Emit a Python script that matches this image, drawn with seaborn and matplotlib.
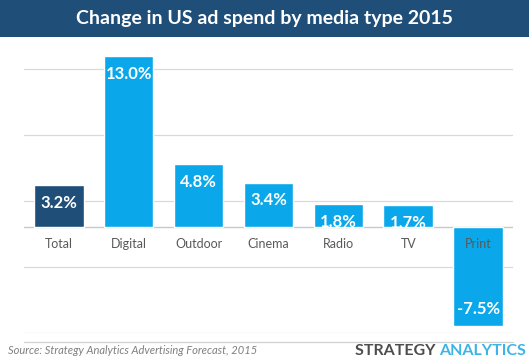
import matplotlib
matplotlib.use("Agg")
import matplotlib.pyplot as plt
import seaborn as sns
import pandas as pd
from matplotlib.patches import Rectangle

categories = ["Total", "Digital", "Outdoor", "Cinema", "Radio", "TV", "Print"]
values = [3.2, 13.0, 4.8, 3.4, 1.8, 1.7, -7.5]
value_labels = ["3.2%", "13.0%", "4.8%", "3.4%", "1.8%", "1.7%", "-7.5%"]
grid_ticks = [-8, -3, 2, 7, 12]

NAVY = "#1f4e79"
BLUE = "#0aa8ea"

sns.set_theme(style="white")
plt.rcParams["font.family"] = ["Lato", "DejaVu Sans"]

df = pd.DataFrame({"media": categories, "change": values})
colors = [NAVY] + [BLUE] * (len(categories) - 1)

fig = plt.figure(figsize=(5.29, 3.62), dpi=100)
fig.patch.set_facecolor("white")

# title banner
fig.patches.append(Rectangle((0, 0.898), 1, 0.102, transform=fig.transFigure,
                             facecolor=NAVY, edgecolor="none", zorder=0))
fig.text(0.5, 0.949, "Change in US ad spend by media type 2015", color="white",
         fontsize=14, fontweight="bold", ha="center", va="center")

ax = fig.add_axes([0.045, 0.080, 0.925, 0.802])
sns.barplot(data=df, x="media", y="change", hue="media", palette=colors,
            dodge=False, legend=False, width=0.71, saturation=1, ax=ax, zorder=3)

ax.set_ylim(-8, 14)
ax.set_xlim(-0.5, len(categories) - 0.5)
ax.set_yticks(grid_ticks)
ax.set_yticklabels([])
ax.set_xticks([])
ax.set_xlabel("")
ax.set_ylabel("")
ax.grid(axis="y", color="#d9d9d9", linewidth=0.9, zorder=0)
ax.axhline(0, color="#c8c8c8", linewidth=1.0, zorder=2)
for s in ax.spines.values():
    s.set_visible(False)
ax.tick_params(left=False, bottom=False)

for i, (cat, v, lab) in enumerate(zip(categories, values, value_labels)):
    ax.text(i, -1.25, cat, ha="center", va="center", fontsize=9,
            color="#595959", zorder=5)
    off = -1.35 if v >= 0 else 1.35
    ax.text(i, v + off, lab, ha="center", va="center", fontsize=12,
            fontweight="bold", color="white", zorder=5)

# footer
fig.add_artist(plt.Line2D([0.045, 0.97], [0.055, 0.055], color="#d0d0d0",
                          linewidth=0.9, transform=fig.transFigure))
fig.text(0.015, 0.032, "Source: Strategy Analytics Advertising Forecast, 2015",
         fontsize=8, style="italic", color="#7f7f7f", ha="left", va="center")
t2 = fig.text(0.995, 0.030, "ANALYTICS", fontsize=11.5, fontweight="bold",
              color="#3cb4e6", ha="right", va="center")
fig.canvas.draw()
bb = t2.get_window_extent()
x1 = fig.transFigure.inverted().transform((bb.x0, bb.y0))[0]
fig.text(x1, 0.030, "STRATEGY ", fontsize=11.5, fontweight="bold",
         color="#4d4d4d", ha="right", va="center")

fig.savefig("out.png", dpi=100)
